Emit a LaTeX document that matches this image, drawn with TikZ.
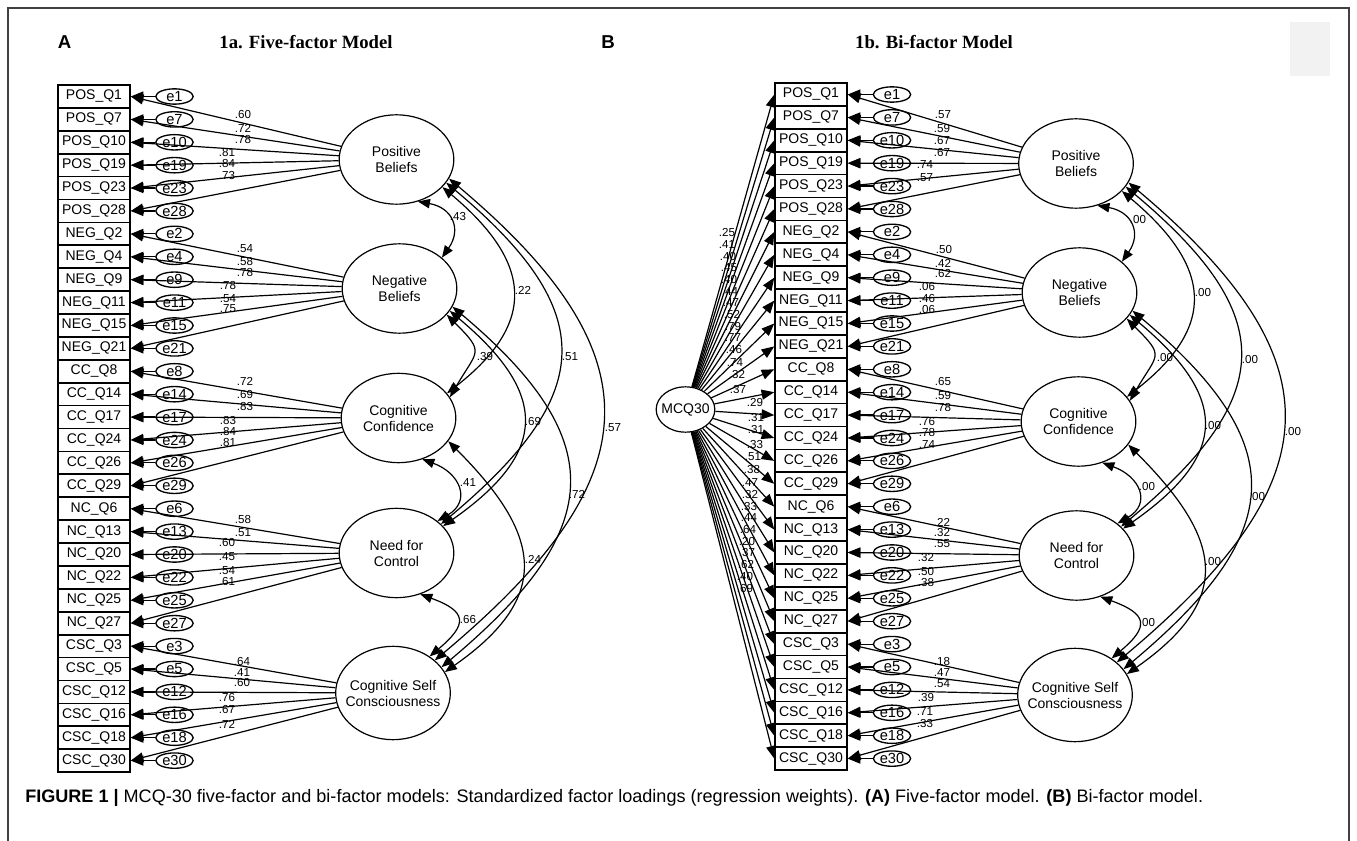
\documentclass[tikz,border=0pt]{standalone}
\usepackage{fontspec}
\setmainfont{Liberation Sans}
\newfontfamily\serifface{Liberation Serif}
\usetikzlibrary{arrows.meta,shapes.geometric}
\tikzset{
 item/.style={draw, line width=1.1pt, rectangle, minimum width=54pt, minimum height=17pt, inner sep=0pt, font=\fontsize{10.5pt}{12pt}\selectfont},
 err/.style={draw, ellipse, line width=1pt, minimum width=28pt, minimum height=11.5pt, inner sep=0pt, font=\fontsize{11pt}{12pt}\selectfont},
 fac/.style={draw, ellipse, line width=0.9pt, minimum width=86pt, minimum height=67pt, inner sep=0pt},
 factxt/.style={align=center, font=\fontsize{10.5pt}{12pt}\selectfont, inner sep=0pt},
 num/.style={font=\fontsize{8.7pt}{9pt}\selectfont, inner sep=0pt},
 ld/.style={-{Triangle[length=9.5pt,width=7.5pt]}, line width=0.9pt},
 cov/.style={{Triangle[length=9pt,width=7pt]}-{Triangle[length=9pt,width=7pt]}, line width=0.9pt},
}
\newcommand\covarcs[5]{%
 \draw[cov] (#1.-63) .. controls +(-10:35) and +(55:35) .. (#2.36);
 \draw[cov] (#2.-29) .. controls +(-45:55) and +(60:55) .. (#3.22);
 \draw[cov] (#1.-31) .. controls +(-40:116) and +(38:116) .. (#3.27);
 \draw[cov] (#1.-25) .. controls +(-40:202) and +(40:202) .. (#4.33);
 \draw[cov] (#1.-20) .. controls +(-40:279) and +(40:279) .. (#5.38);
 \draw[cov] (#2.-24) .. controls +(-40:129) and +(35:129) .. (#4.30);
 \draw[cov] (#2.-19) .. controls +(-40:211) and +(40:211) .. (#5.28);
 \draw[cov] (#3.-60) .. controls +(-20:40) and +(30:40) .. (#4.38);
 \draw[cov] (#3.-25) .. controls +(-45:132) and +(35:132) .. (#5.22);
 \draw[cov] (#4.-60) .. controls +(-20:50) and +(40:50) .. (#5.45);
}
\begin{document}
\begin{tikzpicture}[x=0.75pt,y=0.75pt]
\path[use as bounding box] (0,0) rectangle (1357,-841);
% frame
\draw[line width=0.9pt, black!75] (8,-841) -- (8,-8) -- (1349,-8) -- (1349,-841);
\fill[black!5] (1290,-22) rectangle (1330,-76);
% headings
\node[font=\bfseries\fontsize{14pt}{15pt}\selectfont, inner sep=0pt] (hA) at (64.5,-42) {A};
\node[font=\bfseries\fontsize{14pt}{15pt}\selectfont, inner sep=0pt] (hB) at (608,-42) {B};
\node[font=\serifface\bfseries\fontsize{14pt}{16pt}\selectfont, inner sep=0pt] (tA) at (306,-42) {1a. Five-factor Model};
\node[font=\serifface\bfseries\fontsize{14pt}{16pt}\selectfont, inner sep=0pt] (tB) at (934,-42) {1b. Bi-factor Model};
% items and errors
\foreach \g/\q [count=\i from 0] in {POS/1,POS/7,POS/10,POS/19,POS/23,POS/28,NEG/2,NEG/4,NEG/9,NEG/11,NEG/15,NEG/21,CC/8,CC/14,CC/17,CC/24,CC/26,CC/29,NC/6,NC/13,NC/20,NC/22,NC/25,NC/27,CSC/3,CSC/5,CSC/12,CSC/16,CSC/18,CSC/30} {
 \node[item] (A\i) at (94,{-(96.5+22.9*\i)}) {\g\_Q\q};
 \node[err] (EA\i) at (174.5,{-(96.5+22.9*\i)}) {e\q};
 \draw[ld] (EA\i) -- (A\i);
 \node[item] (B\i) at (811,{-(94.5+22.9*\i)}) {\g\_Q\q};
 \node[err] (EB\i) at (892,{-(94.5+22.9*\i)}) {e\q};
 \draw[ld] (EB\i) -- (B\i);
}
% factors panel A
\node[fac] (pa) at (396.5,-159.5) {};
\node[fac] (na) at (399.5,-288.5) {};
\node[fac] (ca) at (398.5,-418) {};
\node[fac] (ka) at (396.5,-553) {};
\node[fac, minimum height=70pt] (sa) at (393,-693) {};
% factors panel B
\node[fac] (pb) at (1076,-163.5) {};
\node[fac] (nb) at (1079.5,-292.5) {};
\node[fac] (cb) at (1078.5,-421.5) {};
\node[fac] (kb) at (1076.5,-555.5) {};
\node[fac, minimum height=70pt] (sb) at (1075,-695) {};
\node[draw, ellipse, line width=0.9pt, minimum width=44pt, minimum height=34pt, inner sep=0pt] (g) at (685.5,-409.5) {};
\foreach \f/\t in {pa/{Positive\\Beliefs},na/{Negative\\Beliefs},ca/{Cognitive\\Confidence},ka/{Need for\\Control},sa/{Cognitive Self\\Consciousness},pb/{Positive\\Beliefs},nb/{Negative\\Beliefs},cb/{Cognitive\\Confidence},kb/{Need for\\Control},sb/{Cognitive Self\\Consciousness}}
 \node[factxt] (\f-t) at (\f) {\t};
\node[factxt] (g-t) at (g) {MCQ30};
% loadings
\foreach \f/\s in {pa/0,na/6,ca/12,ka/18,sa/24}{
 \foreach \k in {0,...,5}{
  \pgfmathtruncatemacro\j{\s+\k}
  \draw[ld] (\f) -- (A\j.east);
 }
}
\foreach \f/\s in {pb/0,nb/6,cb/12,kb/18,sb/24}{
 \foreach \k in {0,...,5}{
  \pgfmathtruncatemacro\j{\s+\k}
  \draw[ld] (\f) -- (B\j.east);
 }
}
\foreach \i in {0,...,29} \draw[ld] (g) -- (B\i.west);
% covariances
\covarcs{pa}{na}{ca}{ka}{sa}
\covarcs{pb}{nb}{cb}{kb}{sb}
% loading labels panel A
\foreach \v/\x/\y [count=\n] in {.60/243/115,.72/243/128,.78/243/140,.81/227/153,.84/227/164,.73/227/176,
 .54/245/249,.58/245/262,.78/245/273,.78/228/286,.54/228/299,.75/228/309,
 .72/245/381,.69/245/395,.83/245/407,.83/228/421,.84/228/432,.81/228/443,
 .58/243/520,.51/243/533,.60/227/543,.45/227/557,.54/227/571,.61/227/582,
 .64/242/662,.41/242/673,.60/242/683,.76/227/698,.67/227/710,.72/227/724}
 \node[num] (la\n) at (\x,-\y) {\v};
% loading labels panel B
\foreach \v/\x/\y [count=\n] in {.57/943/115,.59/942/129,.67/942/141,.67/942/153,.74/925/165,.57/925/178,
 .50/944/250,.42/943/263,.62/943/274,.06/927/287,.46/927/299,.06/927/310,
 .65/943/382,.59/943/396,.78/943/408,.76/927/422,.78/927/433,.74/927/445,
 .22/942/522,.32/942/533,.55/942/544,.32/926/558,.50/926/572,.38/926/583,
 .18/942/662,.47/942/673,.54/942/684,.39/926/698,.71/925/712,.33/925/724}
 \node[num] (lb\n) at (\x,-\y) {\v};
% general factor labels
\foreach \v/\x/\y [count=\n] in {.25/727/233,.41/727/245,.40/728/257,.45/729/268,.40/729/280,.44/730/292,.47/731/303,.52/732/315,.79/733/327,.77/733/338,.46/734/350,.74/735/363,.32/737/375,.37/738/390,
 .29/755/403,.31/756/418,.31/756/430,.33/755/445,.51/753/457,.38/752/470,.47/750/483,.32/750/495,.33/749/507,.44/749/518,.64/748/530,.20/747/542,.37/747/553,.62/746/565,.40/745/577,.69/745/589}
 \node[num] (lg\n) at (\x,-\y) {\v};
% covariance labels
\foreach \v/\x/\y [count=\n] in {.43/458/217,.22/523/290,.39/485/357,.51/570/357,.57/613/428,.69/533/422,.72/577/494,.41/468/483,.24/533/559,.66/468/620}
 \node[num] (ca\n) at (\x,-\y) {\v};
\foreach \x/\y [count=\n] in {1138/220,1203/293,1165/358,1250/360,1293/432,1213/426,1257/497,1147/487,1213/562,1147/623}
 \node[num] (cb\n) at (\x,-\y) {.00};
% caption
\node[anchor=base west, inner sep=0pt, font=\fontsize{13.55pt}{15pt}\selectfont] (cap) at (25,-802.5) {\textbf{FIGURE 1 |} MCQ-30 five-factor and bi-factor models: Standardized factor loadings (regression weights). \textbf{(A)} Five-factor model. \textbf{(B)} Bi-factor model.};
\end{tikzpicture}
\end{document}
